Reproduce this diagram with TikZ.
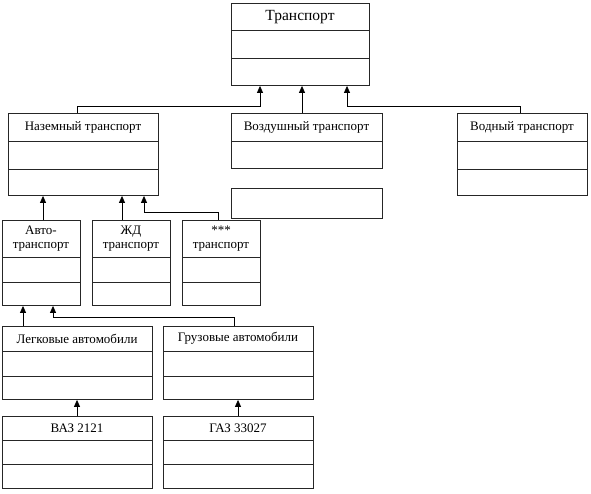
\documentclass[tikz,border=0pt]{standalone}
\usepackage{fontspec}
\setmainfont{Liberation Serif}
\usetikzlibrary{arrows.meta,calc}
\begin{document}
\begin{tikzpicture}[x=1pt,y=-1pt,
  box/.style={draw=black!85, line width=0.9pt, inner sep=0pt, anchor=north west},
  lbl/.style={font=\fontsize{13}{14}\selectfont, inner sep=0pt, align=center},
  big/.style={font=\fontsize{15.5}{17}\selectfont},
  dv/.style={draw=black!85, line width=0.9pt},
  con/.style={draw=black, line width=0.8pt, -{Triangle[length=7pt,width=6pt]}}]
\useasboundingbox (0,0) rectangle (591,493);
% helper: box with name, corners, dividers
\newcommand{\ubox}[6]{%
  \node[box, minimum width=#4-#2, minimum height=#5-#3] (#1) at (#2,#3) {};
  \foreach \yy in {#6} {\draw[dv] (#2,\yy) -- (#4,\yy);}
}
% Level 0
\ubox{tr}{231}{3}{369}{85}{30,58}
\node[lbl,big] (trT) at (300,17) {Транспорт};
% Level 1
\ubox{nz}{8}{113}{158}{195}{141,169}
\node[lbl] (nzT) at (83,127) {Наземный транспорт};
\ubox{vz}{231}{113}{382}{168}{141}
\node[lbl] (vzT) at (306.5,127) {Воздушный транспорт};
\ubox{ex}{231}{188}{382}{218}{}
\ubox{vd}{457}{113}{587}{195}{141,169}
\node[lbl] (vdT) at (522,127) {Водный транспорт};
% Level 2
\ubox{av}{2}{220}{80}{305}{257,282}
\node[lbl] (avT) at (41,239) {Авто-\\[0pt]транспорт};
\ubox{zd}{92}{220}{170}{305}{257,282}
\node[lbl] (zdT) at (131,239) {ЖД\\[0pt]транспорт};
\ubox{st}{182}{220}{260}{305}{257,282}
\node[lbl] (stT) at (221,239) {***\\[0pt]транспорт};
% Level 3
\ubox{lg}{2}{326}{152}{399}{351,376}
\node[lbl] (lgT) at (77,338.5) {Легковые автомобили};
\ubox{gr}{163}{326}{313}{399}{351,376}
\node[lbl] (grT) at (238,338.5) {Грузовые автомобили};
% Level 4
\ubox{vaz}{2}{416}{152}{488}{440,464}
\node[lbl] (vazT) at (77,428) {ВАЗ 2121};
\ubox{gaz}{163}{416}{313}{488}{440,464}
\node[lbl] (gazT) at (238,428) {ГАЗ 33027};
% Connectors
\draw[con] ($(nz.north west)+(69,0)$) |- (260,106) -- ($(tr.south west)+(29,0)$);
\draw[con] ($(vz.north west)+(71,0)$) -- ($(tr.south west)+(71,0)$);
\draw[con] ($(vd.north west)+(63,0)$) |- (347,106) -- ($(tr.south west)+(116,0)$);
\draw[con] ($(av.north west)+(41,0)$) -- ($(nz.south west)+(35,0)$);
\draw[con] ($(zd.north west)+(30,0)$) -- ($(nz.south west)+(114,0)$);
\draw[con] ($(st.north west)+(36,0)$) |- (144,212) -- ($(nz.south west)+(136,0)$);
\draw[con] ($(lg.north west)+(21,0)$) -- ($(av.south west)+(21,0)$);
\draw[con] ($(gr.north west)+(71,0)$) |- (53,317) -- ($(av.south west)+(51,0)$);
\draw[con] ($(vaz.north west)+(75,0)$) -- ($(lg.south west)+(75,0)$);
\draw[con] ($(gaz.north west)+(75,0)$) -- ($(gr.south west)+(75,0)$);
\end{tikzpicture}
\end{document}
